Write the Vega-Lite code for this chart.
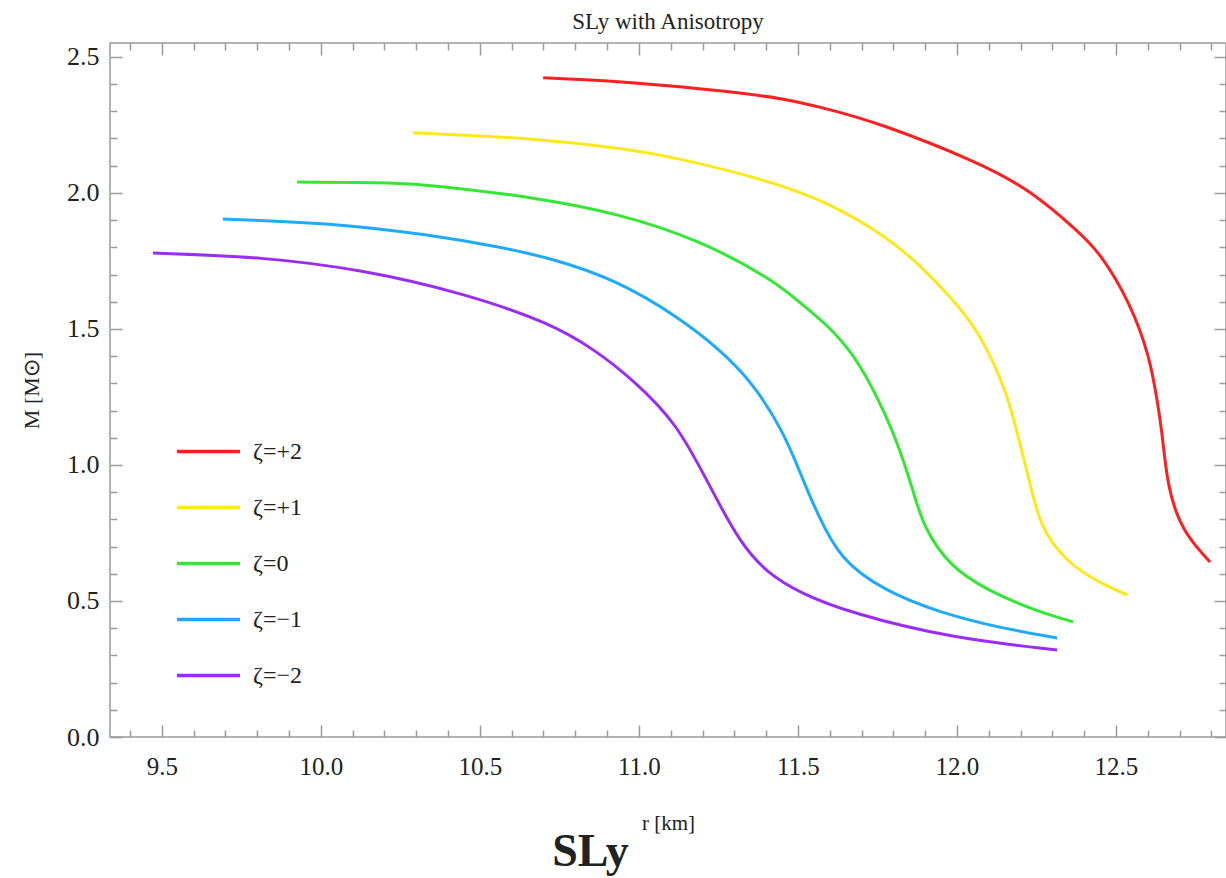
{
  "$schema": "https://vega.github.io/schema/vega-lite/v6.json",
  "width": 1116,
  "height": 694,
  "autosize": {"type": "none"},
  "padding": {"left": 110, "top": 43, "right": 0, "bottom": 141},
  "background": "white",
  "title": {
    "text": "SLy with Anisotropy",
    "font": "Liberation Serif",
    "fontSize": 23,
    "fontWeight": "normal",
    "color": "#222",
    "offset": 8
  },
  "config": {
    "view": {"stroke": "#9a9a9a", "strokeWidth": 1.5},
    "font": "Liberation Serif",
    "axis": {
      "domain": false,
      "grid": false,
      "tickColor": "#9a9a9a",
      "tickWidth": 1.5,
      "labelFont": "Liberation Serif",
      "labelColor": "#222",
      "titleFont": "Liberation Serif",
      "titleColor": "#222",
      "titleFontWeight": "normal"
    }
  },
  "data": {
    "values": [
      {"zeta": "ζ=+2", "i": 0, "r": 10.699, "M": 2.423},
      {"zeta": "ζ=+2", "i": 1, "r": 10.982, "M": 2.408},
      {"zeta": "ζ=+2", "i": 2, "r": 11.296, "M": 2.371},
      {"zeta": "ζ=+2", "i": 3, "r": 11.444, "M": 2.349},
      {"zeta": "ζ=+2", "i": 4, "r": 11.570, "M": 2.316},
      {"zeta": "ζ=+2", "i": 5, "r": 11.758, "M": 2.257},
      {"zeta": "ζ=+2", "i": 6, "r": 12.073, "M": 2.110},
      {"zeta": "ζ=+2", "i": 7, "r": 12.230, "M": 2.011},
      {"zeta": "ζ=+2", "i": 8, "r": 12.387, "M": 1.853},
      {"zeta": "ζ=+2", "i": 9, "r": 12.450, "M": 1.779},
      {"zeta": "ζ=+2", "i": 10, "r": 12.545, "M": 1.596},
      {"zeta": "ζ=+2", "i": 11, "r": 12.607, "M": 1.397},
      {"zeta": "ζ=+2", "i": 12, "r": 12.633, "M": 1.213},
      {"zeta": "ζ=+2", "i": 13, "r": 12.645, "M": 1.118},
      {"zeta": "ζ=+2", "i": 14, "r": 12.661, "M": 0.934},
      {"zeta": "ζ=+2", "i": 15, "r": 12.692, "M": 0.809},
      {"zeta": "ζ=+2", "i": 16, "r": 12.733, "M": 0.724},
      {"zeta": "ζ=+2", "i": 17, "r": 12.796, "M": 0.643},

      {"zeta": "ζ=+1", "i": 0, "r": 10.290, "M": 2.221},
      {"zeta": "ζ=+1", "i": 1, "r": 10.667, "M": 2.202},
      {"zeta": "ζ=+1", "i": 2, "r": 10.982, "M": 2.158},
      {"zeta": "ζ=+1", "i": 3, "r": 11.107, "M": 2.132},
      {"zeta": "ζ=+1", "i": 4, "r": 11.403, "M": 2.048},
      {"zeta": "ζ=+1", "i": 5, "r": 11.601, "M": 1.963},
      {"zeta": "ζ=+1", "i": 6, "r": 11.780, "M": 1.838},
      {"zeta": "ζ=+1", "i": 7, "r": 11.884, "M": 1.735},
      {"zeta": "ζ=+1", "i": 8, "r": 11.988, "M": 1.607},
      {"zeta": "ζ=+1", "i": 9, "r": 12.073, "M": 1.485},
      {"zeta": "ζ=+1", "i": 10, "r": 12.158, "M": 1.265},
      {"zeta": "ζ=+1", "i": 11, "r": 12.189, "M": 1.118},
      {"zeta": "ζ=+1", "i": 12, "r": 12.230, "M": 0.934},
      {"zeta": "ζ=+1", "i": 13, "r": 12.261, "M": 0.772},
      {"zeta": "ζ=+1", "i": 14, "r": 12.346, "M": 0.640},
      {"zeta": "ζ=+1", "i": 15, "r": 12.450, "M": 0.566},
      {"zeta": "ζ=+1", "i": 16, "r": 12.535, "M": 0.522},

      {"zeta": "ζ=0", "i": 0, "r": 9.925, "M": 2.040},
      {"zeta": "ζ=0", "i": 1, "r": 10.249, "M": 2.037},
      {"zeta": "ζ=0", "i": 2, "r": 10.343, "M": 2.029},
      {"zeta": "ζ=0", "i": 3, "r": 10.667, "M": 1.985},
      {"zeta": "ζ=0", "i": 4, "r": 10.931, "M": 1.926},
      {"zeta": "ζ=0", "i": 5, "r": 11.192, "M": 1.827},
      {"zeta": "ζ=0", "i": 6, "r": 11.422, "M": 1.680},
      {"zeta": "ζ=0", "i": 7, "r": 11.507, "M": 1.596},
      {"zeta": "ζ=0", "i": 8, "r": 11.611, "M": 1.496},
      {"zeta": "ζ=0", "i": 9, "r": 11.695, "M": 1.375},
      {"zeta": "ζ=0", "i": 10, "r": 11.780, "M": 1.176},
      {"zeta": "ζ=0", "i": 11, "r": 11.821, "M": 1.055},
      {"zeta": "ζ=0", "i": 12, "r": 11.862, "M": 0.908},
      {"zeta": "ζ=0", "i": 13, "r": 11.894, "M": 0.772},
      {"zeta": "ζ=0", "i": 14, "r": 11.979, "M": 0.625},
      {"zeta": "ζ=0", "i": 15, "r": 12.095, "M": 0.540},
      {"zeta": "ζ=0", "i": 16, "r": 12.239, "M": 0.467},
      {"zeta": "ζ=0", "i": 17, "r": 12.365, "M": 0.423},

      {"zeta": "ζ=−1", "i": 0, "r": 9.692, "M": 1.904},
      {"zeta": "ζ=−1", "i": 1, "r": 10.029, "M": 1.890},
      {"zeta": "ζ=−1", "i": 2, "r": 10.343, "M": 1.846},
      {"zeta": "ζ=−1", "i": 3, "r": 10.563, "M": 1.801},
      {"zeta": "ζ=−1", "i": 4, "r": 10.721, "M": 1.761},
      {"zeta": "ζ=−1", "i": 5, "r": 10.931, "M": 1.680},
      {"zeta": "ζ=−1", "i": 6, "r": 11.129, "M": 1.540},
      {"zeta": "ζ=−1", "i": 7, "r": 11.255, "M": 1.423},
      {"zeta": "ζ=−1", "i": 8, "r": 11.350, "M": 1.313},
      {"zeta": "ζ=−1", "i": 9, "r": 11.453, "M": 1.129},
      {"zeta": "ζ=−1", "i": 10, "r": 11.516, "M": 0.945},
      {"zeta": "ζ=−1", "i": 11, "r": 11.560, "M": 0.824},
      {"zeta": "ζ=−1", "i": 12, "r": 11.633, "M": 0.651},
      {"zeta": "ζ=−1", "i": 13, "r": 11.768, "M": 0.540},
      {"zeta": "ζ=−1", "i": 14, "r": 11.947, "M": 0.456},
      {"zeta": "ζ=−1", "i": 15, "r": 12.136, "M": 0.401},
      {"zeta": "ζ=−1", "i": 16, "r": 12.315, "M": 0.364},

      {"zeta": "ζ=−2", "i": 0, "r": 9.472, "M": 1.779},
      {"zeta": "ζ=−2", "i": 1, "r": 9.818, "M": 1.765},
      {"zeta": "ζ=−2", "i": 2, "r": 10.133, "M": 1.717},
      {"zeta": "ζ=−2", "i": 3, "r": 10.447, "M": 1.632},
      {"zeta": "ζ=−2", "i": 4, "r": 10.721, "M": 1.522},
      {"zeta": "ζ=−2", "i": 5, "r": 10.862, "M": 1.423},
      {"zeta": "ζ=−2", "i": 6, "r": 10.982, "M": 1.313},
      {"zeta": "ζ=−2", "i": 7, "r": 11.120, "M": 1.154},
      {"zeta": "ζ=−2", "i": 8, "r": 11.224, "M": 0.919},
      {"zeta": "ζ=−2", "i": 9, "r": 11.318, "M": 0.713},
      {"zeta": "ζ=−2", "i": 10, "r": 11.403, "M": 0.603},
      {"zeta": "ζ=−2", "i": 11, "r": 11.507, "M": 0.529},
      {"zeta": "ζ=−2", "i": 12, "r": 11.664, "M": 0.456},
      {"zeta": "ζ=−2", "i": 13, "r": 11.979, "M": 0.364},
      {"zeta": "ζ=−2", "i": 14, "r": 12.315, "M": 0.320}
    ]
  },
  "layer": [
    {
      "mark": {"type": "line", "strokeWidth": 3, "interpolate": "basis"},
      "encoding": {
        "x": {
          "field": "r", "type": "quantitative",
          "scale": {"domain": [9.337, 12.846], "nice": false, "zero": false},
          "axis": {
            "orient": "bottom", "offset": -12, "tickSize": 12,
            "values": [9.5, 10, 10.5, 11, 11.5, 12, 12.5],
            "format": ".1f", "labelFontSize": 25, "labelPadding": 17,
            "title": "r [km]", "titleFontSize": 21,
            "titleX": 558, "titleY": 104, "titleAlign": "center", "titleBaseline": "alphabetic"
          }
        },
        "y": {
          "field": "M", "type": "quantitative",
          "scale": {"domain": [0, 2.551], "nice": false, "zero": false},
          "axis": {
            "orient": "left", "offset": -12, "tickSize": 12,
            "values": [0, 0.5, 1, 1.5, 2, 2.5],
            "format": ".1f", "labelFontSize": 26, "labelPadding": 11,
            "title": "M [M⊙]", "titleFontSize": 22,
            "titleX": -91, "titleY": 347, "titleAlign": "center", "titleBaseline": "middle", "titleAngle": -90
          }
        },
        "color": {
          "field": "zeta", "type": "nominal",
          "scale": {
            "domain": ["ζ=+2", "ζ=+1", "ζ=0", "ζ=−1", "ζ=−2"],
            "range": ["#ff1f1f", "#ffe81a", "#33e833", "#1eaaff", "#9b2cf5"]
          },
          "legend": {
            "orient": "none", "legendX": 86, "legendY": 396,
            "title": null, "padding": 0,
            "symbolType": "M-3,0H3", "symbolSize": 441, "symbolStrokeWidth": 3.5,
            "labelFont": "Liberation Serif", "labelFontSize": 24, "labelColor": "#222",
            "labelOffset": 32, "rowPadding": 31
          }
        },
        "order": {"field": "i", "type": "quantitative"}
      }
    },
    {
      "mark": {"type": "point", "opacity": 0},
      "encoding": {
        "x": {
          "field": "r", "type": "quantitative",
          "scale": {"domain": [9.337, 12.846], "nice": false, "zero": false},
          "axis": {
            "orient": "bottom", "offset": -7, "tickSize": 7, "labels": false,
            "values": [9.4, 9.6, 9.7, 9.8, 9.9, 10.1, 10.2, 10.3, 10.4, 10.6, 10.7, 10.8, 10.9, 11.1, 11.2, 11.3, 11.4, 11.6, 11.7, 11.8, 11.9, 12.1, 12.2, 12.3, 12.4, 12.6, 12.7, 12.8],
            "title": "SLy", "titleFontSize": 46, "titleFontWeight": "bold",
            "titleX": 480, "titleY": 135, "titleAlign": "center", "titleBaseline": "alphabetic"
          }
        },
        "y": {
          "field": "M", "type": "quantitative",
          "scale": {"domain": [0, 2.551], "nice": false, "zero": false},
          "axis": {
            "orient": "left", "offset": -7, "tickSize": 7, "labels": false, "title": null,
            "values": [0.1, 0.2, 0.3, 0.4, 0.6, 0.7, 0.8, 0.9, 1.1, 1.2, 1.3, 1.4, 1.6, 1.7, 1.8, 1.9, 2.1, 2.2, 2.3, 2.4]
          }
        }
      }
    },
    {
      "mark": {"type": "point", "opacity": 0},
      "encoding": {
        "x": {
          "field": "r", "type": "quantitative",
          "scale": {"domain": [9.337, 12.846], "nice": false, "zero": false},
          "axis": {
            "orient": "top", "offset": -12, "tickSize": 12, "labels": false, "title": null,
            "values": [9.5, 10, 10.5, 11, 11.5, 12, 12.5]
          }
        },
        "y": {
          "field": "M", "type": "quantitative",
          "scale": {"domain": [0, 2.551], "nice": false, "zero": false},
          "axis": {
            "orient": "right", "offset": -12, "tickSize": 12, "labels": false, "title": null,
            "values": [0, 0.5, 1, 1.5, 2, 2.5]
          }
        }
      }
    },
    {
      "mark": {"type": "point", "opacity": 0},
      "encoding": {
        "x": {
          "field": "r", "type": "quantitative",
          "scale": {"domain": [9.337, 12.846], "nice": false, "zero": false},
          "axis": {
            "orient": "top", "offset": -7, "tickSize": 7, "labels": false, "title": null,
            "values": [9.4, 9.6, 9.7, 9.8, 9.9, 10.1, 10.2, 10.3, 10.4, 10.6, 10.7, 10.8, 10.9, 11.1, 11.2, 11.3, 11.4, 11.6, 11.7, 11.8, 11.9, 12.1, 12.2, 12.3, 12.4, 12.6, 12.7, 12.8]
          }
        },
        "y": {
          "field": "M", "type": "quantitative",
          "scale": {"domain": [0, 2.551], "nice": false, "zero": false},
          "axis": {
            "orient": "right", "offset": -7, "tickSize": 7, "labels": false, "title": null,
            "values": [0.1, 0.2, 0.3, 0.4, 0.6, 0.7, 0.8, 0.9, 1.1, 1.2, 1.3, 1.4, 1.6, 1.7, 1.8, 1.9, 2.1, 2.2, 2.3, 2.4]
          }
        }
      }
    }
  ],
  "resolve": {"scale": {"x": "independent", "y": "independent"}}
}
